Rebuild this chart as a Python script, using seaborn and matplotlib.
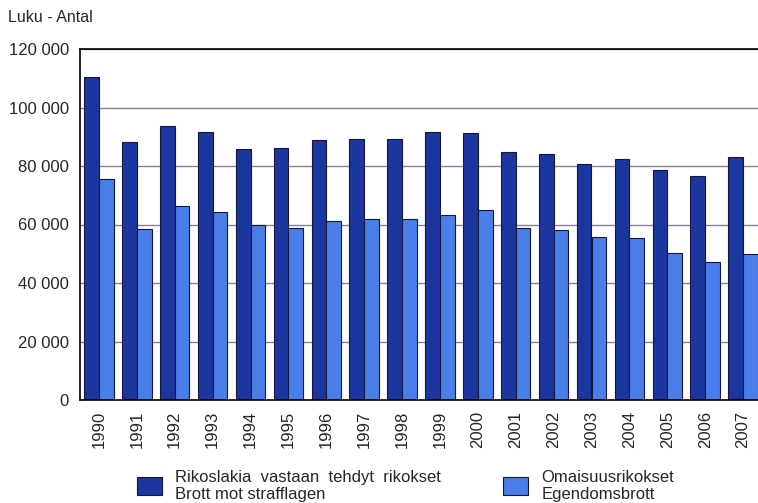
import matplotlib
matplotlib.use("Agg")
import matplotlib.pyplot as plt
from matplotlib.ticker import FuncFormatter, FixedLocator
import seaborn as sns
import pandas as pd

years = [str(y) for y in range(1990, 2008)]
rikoslaki = [110400, 88300, 93700, 91600, 85800, 86300, 88800, 89200, 89100,
             91600, 91200, 84700, 84000, 80700, 82300, 78800, 76500, 83200]
omaisuus = [75600, 58600, 66400, 64400, 60000, 58900, 61100, 61800, 61900,
            63100, 64800, 58900, 58100, 55600, 55300, 50100, 47300, 49900]
series = ["Rikoslakia  vastaan  tehdyt  rikokset\nBrott mot strafflagen",
          "Omaisuusrikokset\nEgendomsbrott"]

df = pd.DataFrame({
    "year": years * 2,
    "value": rikoslaki + omaisuus,
    "series": [series[0]] * len(years) + [series[1]] * len(years),
})

sns.set_style("white")
plt.rcParams["font.family"] = ["Liberation Sans", "DejaVu Sans"]

fig = plt.figure(figsize=(7.58, 5.03), dpi=100)
ax = fig.add_axes([80 / 758, 103 / 503, 682 / 758, 351 / 503])

sns.barplot(data=df, x="year", y="value", hue="series", ax=ax,
            palette=["#1c36a0", "#4a7ee8"], saturation=1, width=0.78,
            edgecolor="#15183a", linewidth=0.8, legend=True)

ax.set_ylim(0, 120000)
ax.set_xlim(-0.5, len(years) - 0.5)
ax.set_yticks(range(0, 120001, 20000))
ax.yaxis.set_major_formatter(FuncFormatter(lambda v, p: f"{int(v):,}".replace(",", " ")))
ax.yaxis.grid(True, color="#8a8099", linewidth=1)
ax.set_axisbelow(True)

ax.set_xlabel("")
ax.set_ylabel("")
ax.tick_params(axis="x", which="major", length=0, labelsize=12, rotation=90, pad=8)
ax.xaxis.set_minor_locator(FixedLocator([i - 0.5 for i in range(len(years) + 1)]))
ax.tick_params(axis="x", which="minor", length=5, width=1, color="black", direction="out")
ax.tick_params(axis="y", length=5, width=1, color="black", direction="out", labelsize=12, pad=3)

for s in ["left", "bottom", "top"]:
    ax.spines[s].set_color("black")
    ax.spines[s].set_linewidth(1.2)
ax.spines["right"].set_visible(False)

handles, labels = ax.get_legend_handles_labels()
ax.get_legend().remove()
fig.legend(handles, labels, loc="lower left", bbox_to_anchor=(122 / 758, -0.028),
           ncol=2, frameon=False, fontsize=12, handlelength=1.5, handleheight=1.3,
           handletextpad=0.8, columnspacing=3.7, labelspacing=0.2)

fig.text(8 / 758, 1 - 17 / 503, "Luku - Antal", fontsize=11.5, va="center", ha="left")

fig.savefig("out.png", dpi=100)
